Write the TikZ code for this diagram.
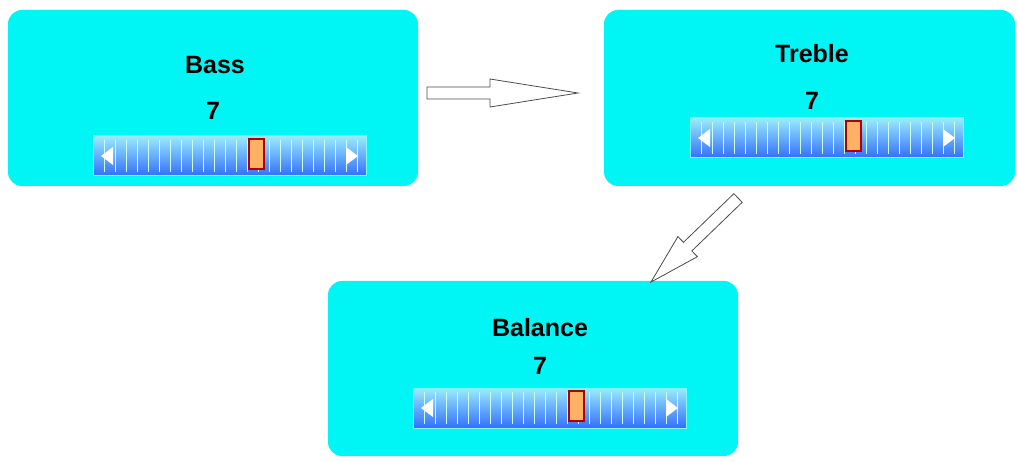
\documentclass[tikz,border=0pt]{standalone}
\usepackage{fontspec}
\setmainfont{Liberation Sans}
\begin{document}
\begin{tikzpicture}[x=1pt,y=-1pt,
  panel/.style={fill=cyan!100, draw=none, rounded corners=14pt},
  lbl/.style={font=\fontsize{25}{29}\selectfont\bfseries},
  harrow/.style={draw=black!70, fill=white, line width=0.8pt, line join=miter}]
\useasboundingbox (0,0) rectangle (1017,462);
\definecolor{cyan}{RGB}{0,245,245}
\newcommand{\slid}[3]{% x0, y0, thumb x
  \shade[top color=blue!15!cyan!40, bottom color=blue!70!cyan!80] (#1,#2) rectangle ++(273,40);
  \draw[cyan!50!white, line width=1pt] (#1,#2) rectangle ++(273,40);
  \foreach \i in {1,...,24} \draw[white!80!cyan, line width=1pt] (#1+\i*11,#2+4) -- ++(0,32);
  \fill[white] (#1+8,#2+20) -- ++(12,-9) -- ++(0,18) -- cycle;
  \fill[white] (#1+265,#2+20) -- ++(-12,-9) -- ++(0,18) -- cycle;
  \draw[red!70!black, fill=orange!60!white, line width=1.2pt] (#3,#2+3) rectangle ++(15,30);
}
\node[panel, minimum width=410pt, minimum height=176pt] (bass) at (213,98) {};
\node[panel, minimum width=411pt, minimum height=176pt] (treble) at (809.5,98) {};
\node[panel, minimum width=410pt, minimum height=175pt] (bal) at (533,368.5) {};
\node[lbl] (t1) at (215,65) {Bass};
\node[lbl] (n1) at (213,111) {7};
\node[lbl] (t2) at (812,54) {Treble};
\node[lbl] (n2) at (812,101) {7};
\node[lbl] (t3) at (540,328) {Balance};
\node[lbl] (n3) at (540,366) {7};
\slid{93}{136}{249}
\slid{690}{118}{846}
\slid{413}{388}{569}
\draw[harrow] (427,87) -- (490,87) -- (490,79) -- (578,93) -- (490,107) -- (490,99) -- (427,99) -- cycle;
\begin{scope}[shift={(738,198)}, rotate=-136]
\draw[harrow] (0,-6) -- (70,-6) -- (70,-14) -- (121,0) -- (70,14) -- (70,6) -- (0,6) -- cycle;
\end{scope}
\end{tikzpicture}
\end{document}
